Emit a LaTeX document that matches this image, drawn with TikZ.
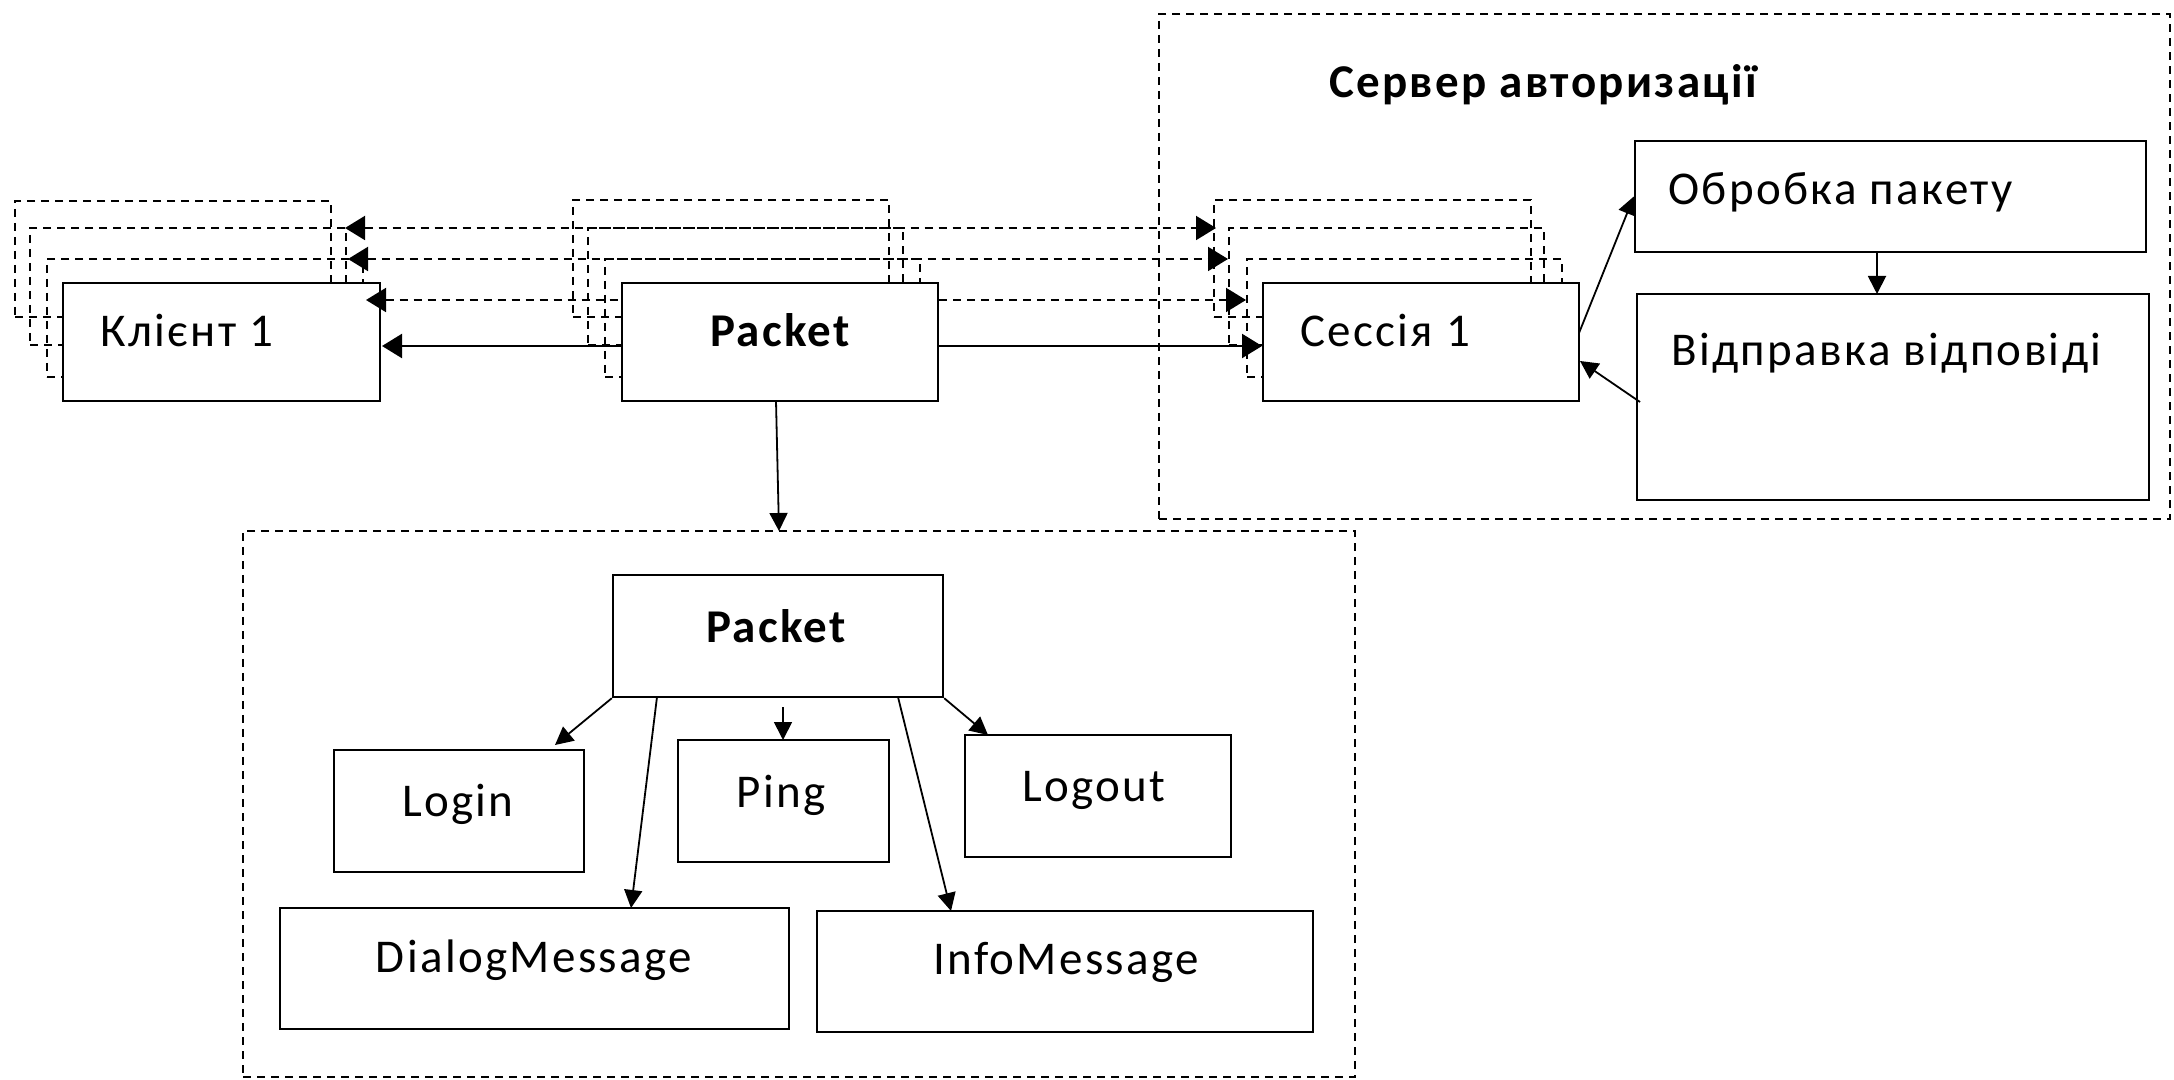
\documentclass[tikz,border=0pt]{standalone}
\usepackage{fontspec}
\setmainfont{Carlito}[LetterSpace=5]
\usetikzlibrary{arrows.meta,fit}
\begin{document}
\begin{tikzpicture}[x=0.5pt,y=-0.5pt,
  box/.style={draw, line width=1.2pt, fill=white, inner sep=0pt},
  ghost/.style={draw, line width=0.9pt, dash pattern=on 4pt off 3pt, inner sep=0pt},
  frame/.style={draw, line width=0.9pt, dash pattern=on 4pt off 3pt},
  conn/.style={line width=0.9pt, -{Triangle[length=9pt,width=9pt]}},
  hconn/.style={line width=1.1pt},
  hdash/.style={line width=1pt, dash pattern=on 4pt off 3pt},
  lbl/.style={font=\fontsize{23.5}{27}\selectfont, anchor=base, inner sep=0pt},
  llbl/.style={font=\fontsize{23.5}{27}\selectfont, anchor=base west, inner sep=0pt},
  blbl/.style={font=\fontsize{23.5}{27}\selectfont\bfseries, anchor=base, inner sep=0pt}]
\useasboundingbox (0,0) rectangle (2174,1080);

% outer dashed frames
\node[frame, inner sep=0pt, fit={(1159,14) (2170,519)}] (server) {};
\node[frame, inner sep=0pt, fit={(243,531) (1355,1077)}] (lower) {};
\node[blbl] (title) at (1543,98) {Сервер авторизації};

% ghost stacks
\node[ghost, fit={(15,201) (331,317)}] (c1) {};
\node[ghost, fit={(30,228) (346,345)}] (c2) {};
\node[ghost, fit={(47,259) (363,377)}] (c3) {};
\node[ghost, fit={(573,200) (889,317)}] (p1) {};
\node[ghost, fit={(588,228) (903,345)}] (p2) {};
\node[ghost, fit={(605,259) (920,377)}] (p3) {};
\node[ghost, fit={(1214,200) (1531,317)}] (s1) {};
\node[ghost, fit={(1229,228) (1544,345)}] (s2) {};
\node[ghost, fit={(1247,259) (1562,377)}] (s3) {};

% main boxes
\node[box, fit={(63,283) (380,401)}] (client) {};
\node[llbl] (clientt) at (100,347) {Клієнт 1};
\node[box, fit={(622,283) (938,401)}] (packet) {};
\node[blbl] (packett) at (780,347) {Packet};
\node[box, fit={(1263,283) (1579,401)}] (session) {};
\node[llbl] (sessiont) at (1300,347) {Сессія 1};
\node[box, fit={(1635,141) (2146,252)}] (obr) {};
\node[llbl] (obrt) at (1668,205) {Обробка пакету};
\node[box, fit={(1637,294) (2149,500)}] (vid) {};
\node[llbl] (vidt) at (1671,366) {Відправка відповіді};

% horizontal connectors
\coordinate (cl1) at (345,228); \coordinate (sr1) at (1216,228);
\coordinate (cl2) at (348,259); \coordinate (sr2) at (1228,259);
\coordinate (cl3) at (366,300); \coordinate (sr3) at (1246,300);
\coordinate (cl4) at (382,346); \coordinate (sr4) at (1262,346);
\draw[hdash, {Triangle[length=10pt,width=12pt]}-{Triangle[length=10pt,width=12pt]}] (cl1) -- (sr1);
\draw[hdash, {Triangle[length=10pt,width=12pt]}-{Triangle[length=10pt,width=12pt]}] (cl2) -- (sr2);
\draw[hdash, {Triangle[length=10pt,width=12pt]}-] (cl3) -- (packet.west |- cl3);
\draw[hdash, -{Triangle[length=10pt,width=12pt]}] (packet.east |- cl3) -- (sr3);
\draw[hconn, {Triangle[length=10pt,width=12pt]}-] (cl4) -- (packet.west |- cl4);
\draw[hconn, -{Triangle[length=10pt,width=12pt]}] (packet.east |- cl4) -- (sr4);

% server connectors
\coordinate (se1) at (1579,333);
\coordinate (se2) at (1580,361);
\coordinate (vd1) at (1640,402);
\coordinate (ob1) at (1877,252);
\coordinate (vd2) at (1877,294);
\draw[conn] (se1) -- (obr.west);
\draw[conn] (vd1) -- (se2);
\draw[conn] (ob1) -- (vd2);

% packet down to lower frame
\coordinate (pk1) at (776,401);
\coordinate (lw1) at (779,531);
\draw[conn] (pk1) -- (lw1);

% lower boxes
\node[box, fit={(613,575) (943,697)}] (pk2) {};
\node[blbl] (pk2t) at (776,642) {Packet};
\node[box, fit={(334,750) (584,872)}] (login) {};
\node[lbl] (logint) at (458,816) {Login};
\node[box, fit={(678,740) (889,862)}] (ping) {};
\node[lbl] (pingt) at (781,807) {Ping};
\node[box, fit={(965,735) (1231,857)}] (logout) {};
\node[lbl] (logoutt) at (1094,801) {Logout};
\node[box, fit={(280,908) (789,1029)}] (dialog) {};
\node[lbl] (dialogt) at (534,972) {DialogMessage};
\node[box, fit={(817,911) (1313,1032)}] (info) {};
\node[lbl] (infot) at (1066,974) {InfoMessage};

\coordinate (t1) at (555,745);
\coordinate (a2) at (657,697); \coordinate (t2) at (631,908);
\coordinate (a3) at (783,707); \coordinate (t3) at (783,740);
\coordinate (a4) at (898,697); \coordinate (t4) at (951,911);
\coordinate (t5) at (988,735);
\draw[conn] (pk2.south west) -- (t1);
\draw[conn] (a2) -- (t2);
\draw[conn] (a3) -- (t3);
\draw[conn] (a4) -- (t4);
\draw[conn] (pk2.south east) -- (t5);
\end{tikzpicture}
\end{document}
